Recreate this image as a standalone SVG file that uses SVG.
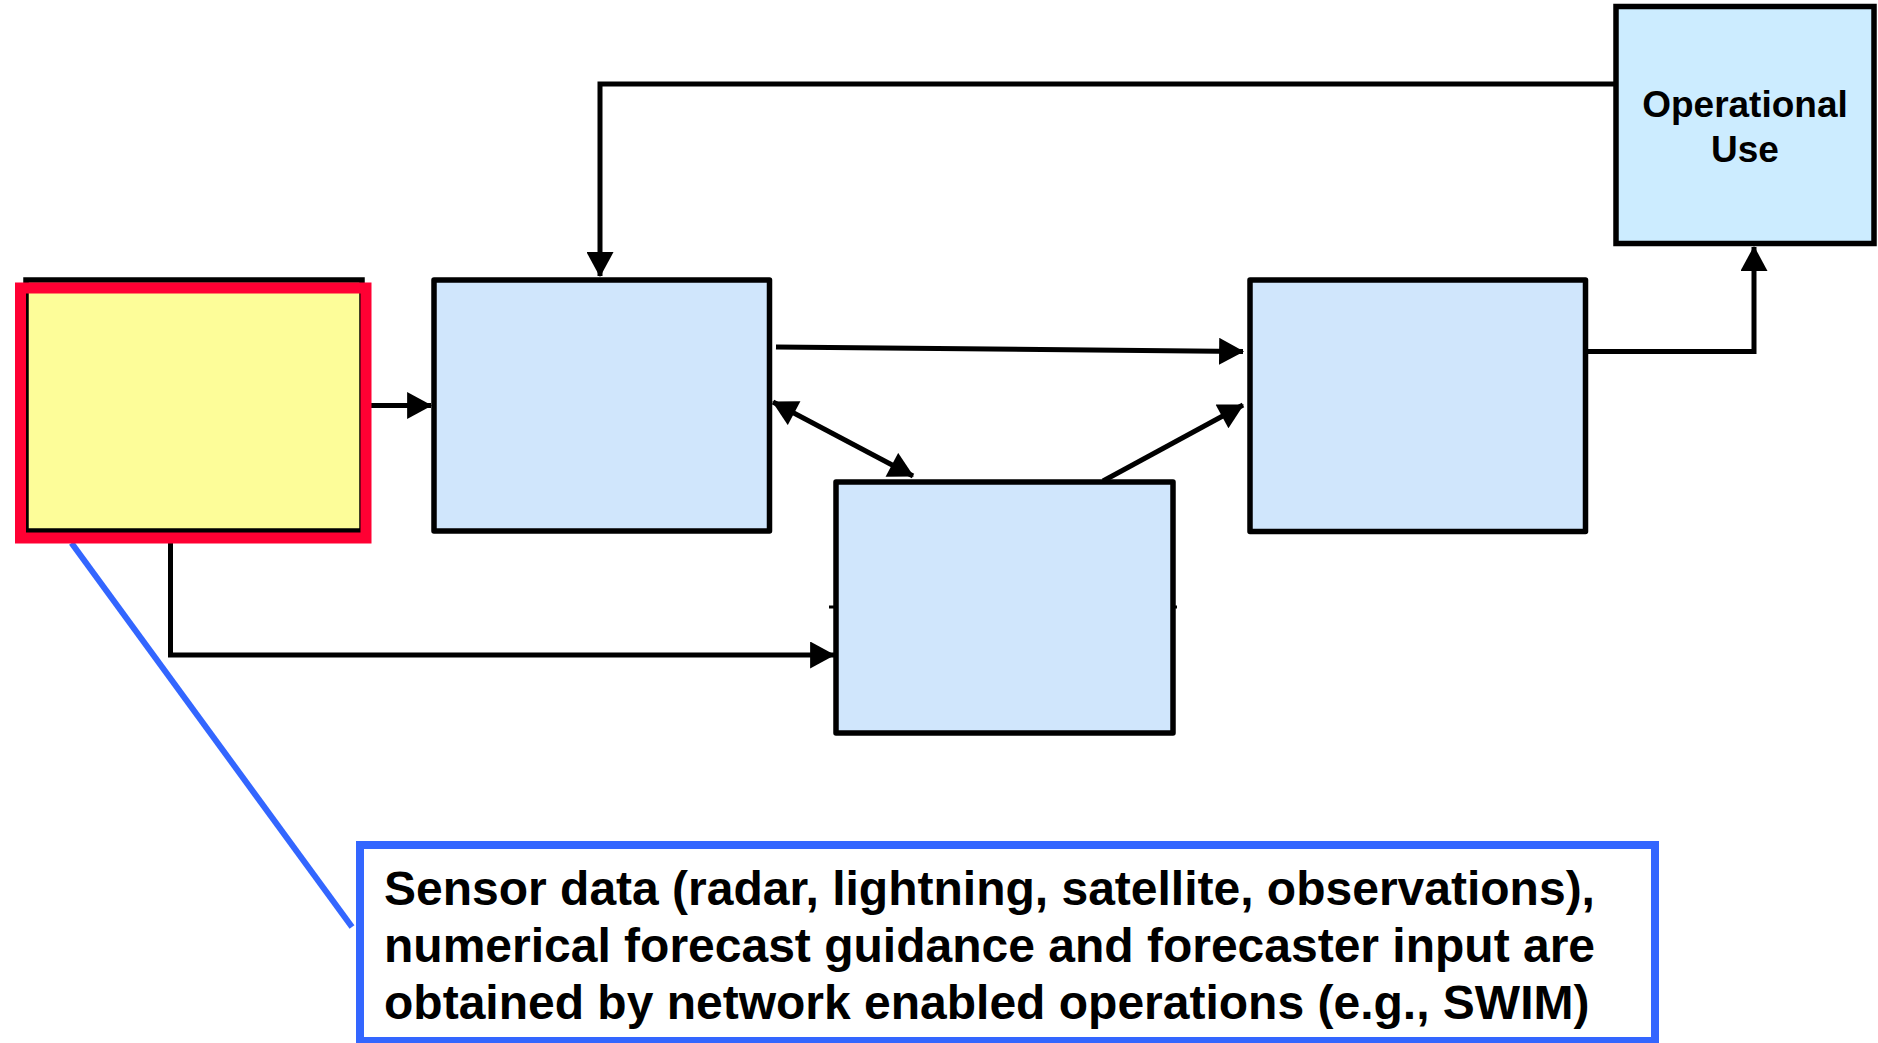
<svg xmlns="http://www.w3.org/2000/svg" width="1878" height="1043" viewBox="0 0 1878 1043">
<style>
.box{fill:#D0E6FC;stroke:#000;stroke-width:5.5;stroke-linejoin:round}
.op{fill:#CCECFF;stroke:#000;stroke-width:5.5}
.conn{fill:none;stroke:#000;stroke-width:5}
.lbl{font-family:"Liberation Sans",Arial,sans-serif;font-weight:bold;fill:#000}
</style>
<defs>
<marker id="ah" markerUnits="userSpaceOnUse" markerWidth="26" markerHeight="27" viewBox="0 0 24 26" refX="23" refY="13" orient="auto-start-reverse">
<path d="M0,0 L24,13 L0,26 z" fill="#000"/>
</marker>
</defs>
<rect width="1878" height="1043" fill="#fff"/>
<g id="connectors">
<polyline class="conn" points="1616,84 600,84 600,276" marker-end="url(#ah)"/>
<line class="conn" x1="371" y1="405.5" x2="431" y2="405.5" marker-end="url(#ah)"/>
<line class="conn" x1="776" y1="347" x2="1243" y2="351.5" marker-end="url(#ah)"/>
<line class="conn" x1="773" y1="402" x2="913" y2="476" marker-start="url(#ah)" marker-end="url(#ah)"/>
<line class="conn" x1="1103" y1="481" x2="1243" y2="405" marker-end="url(#ah)"/>
<polyline class="conn" points="170.5,543 170.5,655 834,655" marker-end="url(#ah)"/>
<polyline class="conn" points="1588,351.5 1754,351.5 1754,247" marker-end="url(#ah)"/>
<line x1="71.5" y1="543" x2="352" y2="927" stroke="#3366FF" stroke-width="6"/>
<line x1="829" y1="607" x2="836" y2="607" stroke="#000" stroke-width="3"/>
<line x1="1173" y1="607" x2="1177" y2="607" stroke="#000" stroke-width="3"/>
</g>
<g id="node-source">
<rect x="26" y="280" width="336" height="251" fill="#FDFD99" stroke="#000" stroke-width="5.5"/>
<rect x="20.5" y="288" width="345.5" height="250" fill="none" stroke="#FF0033" stroke-width="11"/>
</g>
<g id="node-2">
<rect class="box" x="434" y="280" width="335.5" height="251"/>
</g>
<g id="node-3">
<rect class="box" x="1250" y="280" width="335.5" height="251.5"/>
</g>
<g id="node-4">
<rect class="box" x="836" y="482" width="337" height="251"/>
</g>
<g id="node-operational-use">
<rect class="op" x="1616" y="6.5" width="258" height="237"/>
<text class="lbl" font-size="37" text-anchor="middle" x="1745" y="117">Operational</text>
<text class="lbl" font-size="37" text-anchor="middle" x="1745" y="162">Use</text>
</g>
<g id="node-callout">
<rect x="360" y="845" width="1295" height="196" fill="#fff" stroke="#3366FF" stroke-width="8"/>
<text class="lbl" font-size="48" x="384" y="905">Sensor data (radar, lightning, satellite, observations),</text>
<text class="lbl" font-size="48" x="384" y="962">numerical forecast guidance and forecaster input are</text>
<text class="lbl" font-size="48" x="384" y="1019">obtained by network enabled operations (e.g., SWIM)</text>
</g>
</svg>
